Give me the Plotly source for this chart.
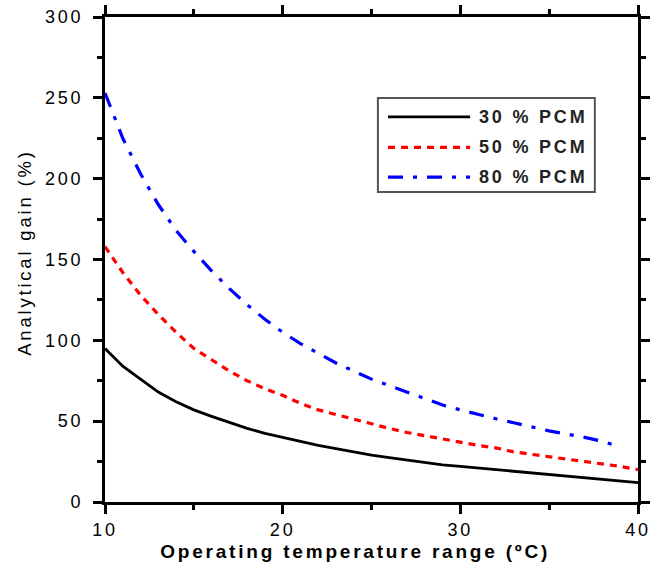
import plotly.graph_objects as go

# Operating temperature range (°C)
temp_range = list(range(10, 41))

# Analytical gain (%) for each PCM fraction
gain_30 = [95, 84, 76, 68, 62, 57, 53, 49, 45.5, 42.5, 40, 37.5, 35, 33, 31, 29,
           27.5, 26, 24.5, 23, 22, 21, 20, 19, 18, 17, 16, 15, 14, 13, 12]
gain_50 = [158, 142, 128, 116, 105, 95, 88, 81, 75, 70, 66, 61, 57, 54, 51, 48,
           45.5, 43, 41, 39, 37, 35, 33.5, 31, 29.5, 28, 26.5, 25, 23.5, 22, 20]
gain_80 = [253, 225, 203, 184, 168, 155, 143, 132, 122, 113, 105, 98, 92, 86, 81, 76,
           72, 68, 64, 60, 57, 54, 51.5, 49, 46.5, 44, 42, 40, 37.5, 34]
temp_80 = temp_range[:len(gain_80)]

series_names = ["30 % PCM", "50 % PCM", "80 % PCM"]
series_colors = ["black", "#ff0000", "#0000ff"]
series_dash = ["solid", "7px,6px", "15px,10px,4px,10px"]
series_width = [2.8, 3.2, 3.2]

x_ticks = [10, 20, 30, 40]
y_ticks = [0, 50, 100, 150, 200, 250, 300]

fig = go.Figure()
for xs, ys, name, col, dash, w in zip(
        [temp_range, temp_range, temp_80], [gain_30, gain_50, gain_80],
        series_names, series_colors, series_dash, series_width):
    fig.add_trace(go.Scatter(x=xs, y=ys, mode="lines", name=name,
                             line=dict(color=col, width=w, dash=dash)))

arial = "Liberation Sans, Arial, sans-serif"
axis_common = dict(
    showline=True, linecolor="black", linewidth=3, mirror="ticks",
    ticks="outside", ticklen=9, tickwidth=2.5, tickcolor="black",
    showgrid=False, zeroline=False, automargin=False,
    tickfont=dict(family=arial, size=18, color="black"),
)

fig.update_xaxes(
    range=[10, 40], tickvals=x_ticks,
    minor=dict(dtick=5, ticks="outside", ticklen=5, tickwidth=2.5, tickcolor="black"),
    **axis_common,
)
fig.update_yaxes(
    range=[0, 300], tickvals=y_ticks, ticklabelstandoff=6,
    minor=dict(dtick=25, ticks="outside", ticklen=5, tickwidth=2.5, tickcolor="black"),
    **axis_common,
)

# Axis titles
fig.add_annotation(xref="paper", yref="paper", x=0.469, y=-0.103,
                   xanchor="center", yanchor="middle", showarrow=False,
                   text="<b>Operating temperature range (ºC)</b>",
                   font=dict(family=arial, size=19, color="black"))
fig.add_annotation(xref="paper", yref="paper", x=-0.152, y=0.515,
                   xanchor="center", yanchor="middle", showarrow=False,
                   textangle=-90, text="Analytical gain (%)",
                   font=dict(family=arial, size=18.5, color="black"))

# Legend box drawn in paper coordinates
box_x0, box_x1, box_y0, box_y1 = 0.512, 0.919, 0.639, 0.833
fig.add_shape(type="rect", xref="paper", yref="paper",
              x0=box_x0, x1=box_x1, y0=box_y0, y1=box_y1,
              line=dict(color="#555555", width=2), fillcolor="white", layer="above")
row_y = [0.794, 0.731, 0.670]
for name, col, dash, w, yy in zip(series_names, series_colors, series_dash,
                                  series_width, row_y):
    fig.add_shape(type="line", xref="paper", yref="paper",
                  x0=0.531, x1=0.685, y0=yy, y1=yy, layer="above",
                  line=dict(color=col, width=w, dash=dash))
    fig.add_annotation(xref="paper", yref="paper", x=0.697, y=yy,
                       xanchor="left", yanchor="middle", align="left",
                       showarrow=False, text=f"<b>{name}</b>",
                       font=dict(family=arial, size=18, color="#222222"))

fig.update_layout(
    width=650, height=566,
    margin=dict(l=105, r=12, t=17, b=64),
    paper_bgcolor="white", plot_bgcolor="white",
    showlegend=False,
)

# Wide letter spacing for all chart text
letter_spacing_css = """
var s = document.createElement('style');
s.textContent = '.main-svg text { letter-spacing: 2.8px; }';
document.head.appendChild(s);
"""
fig.write_html("out.html", post_script=letter_spacing_css)
